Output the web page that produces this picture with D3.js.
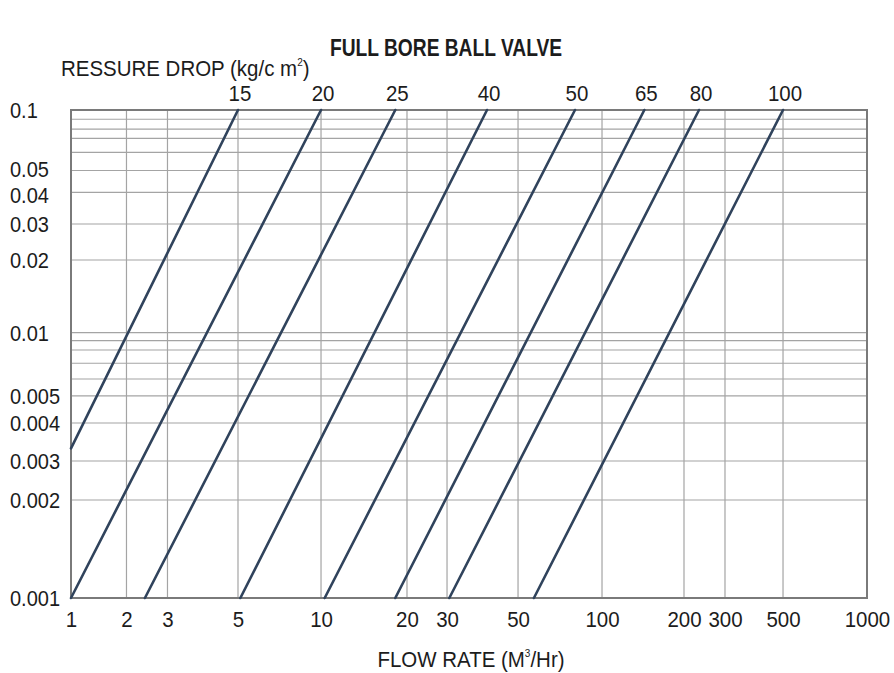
<!DOCTYPE html>
<html><head><meta charset="utf-8">
<script src="https://cdn.jsdelivr.net/npm/d3@7"></script>
<style>
body{margin:0;background:#fff;}
svg text{font-family:"Liberation Sans",Arial,sans-serif;fill:#1c1c1c;}
</style></head><body>
<svg id="c" width="894" height="673"></svg>
<script>
// ---- data ----
const flowTicks = [1, 2, 3, 5, 10, 20, 30, 50, 100, 200, 300, 500, 1000];
const dropTicks = [0.1, 0.05, 0.04, 0.03, 0.02, 0.01, 0.005, 0.004, 0.003, 0.002, 0.001];
const dropTickLabels = ["0.1", "0.05", "0.04", "0.03", "0.02", "0.01", "0.005", "0.004", "0.003", "0.002", "0.001"];
const dropMinor = [0.09, 0.08, 0.07, 0.06, 0.009, 0.008, 0.007, 0.006];
const valveSizes = ["15", "20", "25", "40", "50", "65", "80", "100"];
const startFlow = [1, 1, 2.4, 5.1, 10.3, 18.2, 30.5, 57];
const startDrop = [0.0033, 0.001, 0.001, 0.001, 0.001, 0.001, 0.001, 0.001];
const endFlow = [5, 10, 18.2, 40, 80, 143, 232, 500];
const endDrop = [0.1, 0.1, 0.1, 0.1, 0.1, 0.1, 0.1, 0.1];

// ---- layout (the printed chart's hand-drawn, non-uniform log grid) ----
const X0 = 71, X1 = 867, Y0 = 110, Y1 = 598;
const xStopFrac = [0, 0.0697, 0.1212, 0.2098, 0.3141, 0.4221, 0.4724, 0.5616, 0.6671, 0.7701, 0.8216, 0.8945, 1];
const yStopVals = [0.1, 0.09, 0.08, 0.07, 0.06, 0.05, 0.04, 0.03, 0.02, 0.01, 0.009, 0.008, 0.007, 0.006, 0.005, 0.004, 0.003, 0.002, 0.001];
const yStopFrac = [0, 0.019, 0.039, 0.058, 0.0867, 0.124, 0.169, 0.2336, 0.3074, 0.4564, 0.4727, 0.4918, 0.519, 0.5512, 0.586, 0.6414, 0.7193, 0.7992, 1];
const FS = 22.5, SX = 0.91, YFS = 22;
const labelNudge = {"0.05": -1.6, "0.04": 1.6};

const xLin = d3.scaleLinear()
  .domain(flowTicks.map(Math.log10))
  .range(xStopFrac.map(f => X0 + f * (X1 - X0)));
const yLin = d3.scaleLinear()
  .domain(yStopVals.map(Math.log10))
  .range(yStopFrac.map(f => Y0 + f * (Y1 - Y0)));
const x = v => xLin(Math.log10(v));
const y = v => yLin(Math.log10(v));

const svg = d3.select("#c");

// grid
const grid = svg.append("g");
grid.selectAll("line.v").data(flowTicks.slice(1, -1)).join("line")
  .attr("x1", d => x(d)).attr("x2", d => x(d))
  .attr("y1", Y0).attr("y2", Y1)
  .attr("stroke", "#a4a4a4").attr("stroke-width", 1.2);
grid.selectAll("line.h").data(dropTicks.concat(dropMinor).filter(d => d !== 0.1 && d !== 0.001)).join("line")
  .attr("x1", X0).attr("x2", X1)
  .attr("y1", d => y(d)).attr("y2", d => y(d))
  .attr("stroke", "#a4a4a4").attr("stroke-width", 1.2);

// frame
svg.append("rect")
  .attr("x", X0).attr("y", Y0)
  .attr("width", X1 - X0).attr("height", Y1 - Y0)
  .attr("fill", "none").attr("stroke", "#7a7a7a").attr("stroke-width", 2);

// x axis labels via d3 axis
const xAxis = d3.axisBottom(xLin)
  .tickValues(flowTicks.map(Math.log10))
  .tickFormat((d, i) => String(flowTicks[i]))
  .tickSize(0).tickPadding(0);
const gx = svg.append("g").attr("transform", `translate(0,${Y1})`).call(xAxis);
gx.select(".domain").remove();
gx.selectAll("text").attr("font-size", FS).attr("font-family", null)
  .attr("y", 0).attr("dy", 29).attr("transform", `scale(${SX},1)`).style("fill", "#1c1c1c");

// y axis labels via d3 axis
const yAxis = d3.axisLeft(yLin)
  .tickValues(dropTicks.map(Math.log10))
  .tickFormat((d, i) => dropTickLabels[i])
  .tickSize(0).tickPadding(0);
const gy = svg.append("g").call(yAxis);
gy.select(".domain").remove();
gy.selectAll("text").attr("font-size", YFS).attr("font-family", null)
  .attr("text-anchor", "start").attr("x", 10 / SX).attr("dy", "0.36em")
  .attr("y", function () { return labelNudge[this.textContent] || 0; })
  .attr("transform", `scale(${SX},1)`).style("fill", "#1c1c1c");

// valve lines
const idx = d3.range(valveSizes.length);
svg.append("g").selectAll("line").data(idx).join("line")
  .attr("x1", i => x(startFlow[i])).attr("y1", i => y(startDrop[i]))
  .attr("x2", i => x(endFlow[i])).attr("y2", i => y(endDrop[i]))
  .attr("stroke", "#30435c").attr("stroke-width", 2.6).attr("stroke-linecap", "round");

// valve size labels
svg.append("g").selectAll("text").data(idx).join("text")
  .attr("transform", i => `translate(${x(endFlow[i]) + 2},${Y0 - 9}) scale(${SX},1)`)
  .attr("text-anchor", "middle").attr("font-size", FS)
  .text(i => valveSizes[i]);

// title
svg.append("text").attr("transform", `translate(446,56) scale(0.8,1)`)
  .attr("text-anchor", "middle").attr("font-size", 24).attr("font-weight", "bold")
  .text("FULL BORE BALL VALVE");

// y title
const yt = svg.append("text").attr("transform", `translate(61,76) scale(${SX},1)`).attr("font-size", FS);
yt.append("tspan").text("RESSURE DROP (kg/c m");
yt.append("tspan").attr("font-size", 11).attr("dy", -10).text("2");
yt.append("tspan").attr("dy", 10).text(")");

// x title
const xt = svg.append("text").attr("transform", `translate(471,667) scale(${SX},1)`).attr("text-anchor", "middle").attr("font-size", FS);
xt.append("tspan").text("FLOW RATE (M");
xt.append("tspan").attr("font-size", 11).attr("dy", -10).text("3");
xt.append("tspan").attr("dy", 10).text("/Hr)");
</script>
</body></html>
